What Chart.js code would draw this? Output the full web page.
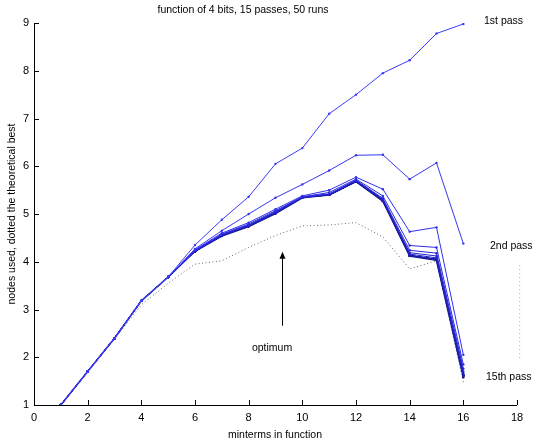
<!DOCTYPE html>
<html>
<head>
<meta charset="utf-8">
<script src="https://cdn.jsdelivr.net/npm/chart.js@4"></script>
<style>
  html, body { margin: 0; padding: 0; background: #fff; }
  #wrap { width: 536px; height: 447px; }
</style>
</head>
<body>
<div id="wrap"><canvas id="chart"></canvas></div>
<script>
const minterms = [1, 2, 3, 4, 5, 6, 7, 8, 9, 10, 11, 12, 13, 14, 15, 16];
const xTicks = [0, 2, 4, 6, 8, 10, 12, 14, 16, 18];
const yTicks = [1, 2, 3, 4, 5, 6, 7, 8, 9];

const pass1 = [1, 1.7, 2.4, 3.18, 3.68, 4.35, 4.88, 5.36, 6.05, 6.38, 7.1, 7.5, 7.95, 8.22, 8.78, 8.98];
const pass2 = [1, 1.7, 2.4, 3.18, 3.68, 4.27, 4.65, 5.0, 5.34, 5.62, 5.91, 6.23, 6.24, 5.73, 6.07, 4.38];
const pass3 = [1, 1.7, 2.4, 3.18, 3.68, 4.25, 4.6, 4.82, 5.1, 5.38, 5.5, 5.77, 5.52, 4.63, 4.72, 2.05];
const pass4 = [1, 1.7, 2.4, 3.18, 3.68, 4.24, 4.58, 4.79, 5.07, 5.36, 5.45, 5.73, 5.38, 4.34, 4.3, 1.85];
const pass5 = [1, 1.7, 2.4, 3.18, 3.68, 4.23, 4.57, 4.77, 5.05, 5.36, 5.42, 5.71, 5.33, 4.24, 4.18, 1.76];
const pass6 = [1, 1.7, 2.4, 3.18, 3.68, 4.22, 4.56, 4.76, 5.04, 5.35, 5.41, 5.7, 5.31, 4.19, 4.12, 1.7];
const pass7 = [1, 1.7, 2.4, 3.18, 3.68, 4.22, 4.55, 4.76, 5.03, 5.35, 5.41, 5.69, 5.3, 4.16, 4.08, 1.66];
const passLate = [1, 1.7, 2.4, 3.18, 3.68, 4.22, 4.55, 4.75, 5.02, 5.35, 5.4, 5.68, 5.28, 4.13, 4.05, 1.62];
const pass15 = [1, 1.7, 2.4, 3.18, 3.68, 4.22, 4.54, 4.74, 5.01, 5.34, 5.4, 5.68, 5.27, 4.12, 4.03, 1.58];
const theoreticalBest = [1, 1.7, 2.38, 3.1, 3.55, 3.95, 4.02, 4.3, 4.55, 4.75, 4.77, 4.82, 4.52, 3.85, 4.02, 1.48];

// dotted bar at the right between the pass labels
const bracketX = [18.1, 18.1];
const bracketY = [3.93, 1.94];

// "optimum" arrow, tail then tip, in data units
const arrowX = [9.25, 9.25];
const arrowY = [2.66, 4.21];
const arrowLabel = { text: "optimum", x: 8.87, y: 2.2 };

const labelTexts = ["1st pass", "2nd pass", "15th pass"];

const FONT = "'Liberation Sans', Arial, sans-serif";

function toPoints(values) {
  return values.map((v, i) => ({ x: minterms[i], y: v }));
}

function passSet(values, color, width) {
  return {
    data: toPoints(values),
    borderColor: color,
    backgroundColor: color,
    borderWidth: width,
    pointRadius: 1.2,
    pointHoverRadius: 1.2,
    pointBorderWidth: 0,
    tension: 0
  };
}

const datasets = [
  passSet(pass1, "#3b3bff", 1),
  passSet(pass2, "#3535f5", 1),
  passSet(pass3, "#3030ee", 1),
  passSet(pass4, "#2c2ce6", 1),
  passSet(pass5, "#2626d8", 1),
  passSet(pass6, "#2222cc", 1),
  passSet(pass7, "#1f1fbf", 1),
  passSet(passLate, "#1c1cb0", 1),
  passSet(passLate, "#1c1ca8", 1),
  passSet(passLate, "#1a1aa0", 1),
  passSet(passLate, "#1a1a98", 1),
  passSet(passLate, "#191990", 1),
  passSet(passLate, "#181888", 1),
  passSet(passLate, "#171784", 1),
  passSet(pass15, "#16167c", 1.6),
  {
    data: toPoints(theoreticalBest),
    borderColor: "#666",
    borderWidth: 1,
    borderDash: [1, 2.5],
    pointRadius: 0,
    tension: 0
  },
  {
    data: bracketX.map((x, i) => ({ x, y: bracketY[i] })),
    borderColor: "#aaa",
    borderWidth: 1,
    borderDash: [1, 3],
    pointRadius: 0,
    clip: false
  }
];

const matlabAxes = {
  id: "matlabAxes",
  afterDraw(chart) {
    const { ctx, chartArea, scales } = chart;
    const x = scales.x;
    const y = scales.y;
    ctx.save();
    ctx.strokeStyle = "#000";
    ctx.lineWidth = 1;
    ctx.beginPath();
    ctx.moveTo(chartArea.left + 0.5, chartArea.top);
    ctx.lineTo(chartArea.left + 0.5, chartArea.bottom + 0.5);
    ctx.lineTo(chartArea.right, chartArea.bottom + 0.5);
    ctx.stroke();

    // inward ticks
    ctx.beginPath();
    xTicks.forEach(v => {
      const px = Math.round(x.getPixelForValue(v)) + 0.5;
      ctx.moveTo(px, chartArea.bottom);
      ctx.lineTo(px, chartArea.bottom - 5);
    });
    yTicks.forEach(v => {
      const py = Math.round(y.getPixelForValue(v)) + 0.5;
      ctx.moveTo(chartArea.left, py);
      ctx.lineTo(chartArea.left + 5, py);
    });
    ctx.stroke();

    // optimum arrow
    const ax = Math.round(x.getPixelForValue(arrowX[0])) + 0.5;
    const tailY = y.getPixelForValue(arrowY[0]);
    const tipY = y.getPixelForValue(arrowY[1]);
    ctx.beginPath();
    ctx.moveTo(ax, tailY);
    ctx.lineTo(ax, tipY + 6);
    ctx.stroke();
    ctx.fillStyle = "#000";
    ctx.beginPath();
    ctx.moveTo(ax, tipY);
    ctx.lineTo(ax - 3, tipY + 7);
    ctx.lineTo(ax + 3, tipY + 7);
    ctx.closePath();
    ctx.fill();

    ctx.font = "10.5px " + FONT;
    ctx.textAlign = "center";
    ctx.textBaseline = "middle";
    ctx.fillText(arrowLabel.text, x.getPixelForValue(arrowLabel.x), y.getPixelForValue(arrowLabel.y));
    ctx.fillText("function of 4 bits, 15 passes, 50 runs", 243, 10);
    ctx.fillText("minterms in function", 275, 435);

    ctx.textAlign = "left";
    ctx.fillText(labelTexts[0], 484, 21);
    ctx.fillText(labelTexts[1], 490, 246);
    ctx.fillText(labelTexts[2], 486, 377);

    ctx.translate(12, 214);
    ctx.rotate(-Math.PI / 2);
    ctx.textAlign = "center";
    ctx.fillText("nodes used, dotted the theoretical best", 0, 0);
    ctx.restore();
  }
};

new Chart(document.getElementById("chart"), {
  type: "line",
  data: { datasets },
  options: {
    responsive: true,
    maintainAspectRatio: false,
    animation: false,
    events: [],
    layout: { padding: { top: 23, right: 19, left: 0, bottom: 0 } },
    plugins: {
      legend: { display: false },
      tooltip: { enabled: false }
    },
    scales: {
      x: {
        type: "linear",
        min: 0,
        max: 18,
        afterFit: scale => { scale.height = 42; },
        afterBuildTicks: scale => { scale.ticks = xTicks.map(v => ({ value: v })); },
        grid: { display: false, drawTicks: false },
        border: { display: false },
        ticks: {
          color: "#000",
          padding: 6,
          maxRotation: 0,
          font: { family: FONT, size: 11 }
        }
      },
      y: {
        type: "linear",
        min: 1,
        max: 9,
        afterFit: scale => { scale.width = 34; },
        afterBuildTicks: scale => { scale.ticks = yTicks.map(v => ({ value: v })); },
        grid: { display: false, drawTicks: false },
        border: { display: false },
        ticks: {
          color: "#000",
          padding: 5,
          font: { family: FONT, size: 11 }
        }
      }
    }
  },
  plugins: [matlabAxes]
});
</script>
</body>
</html>
